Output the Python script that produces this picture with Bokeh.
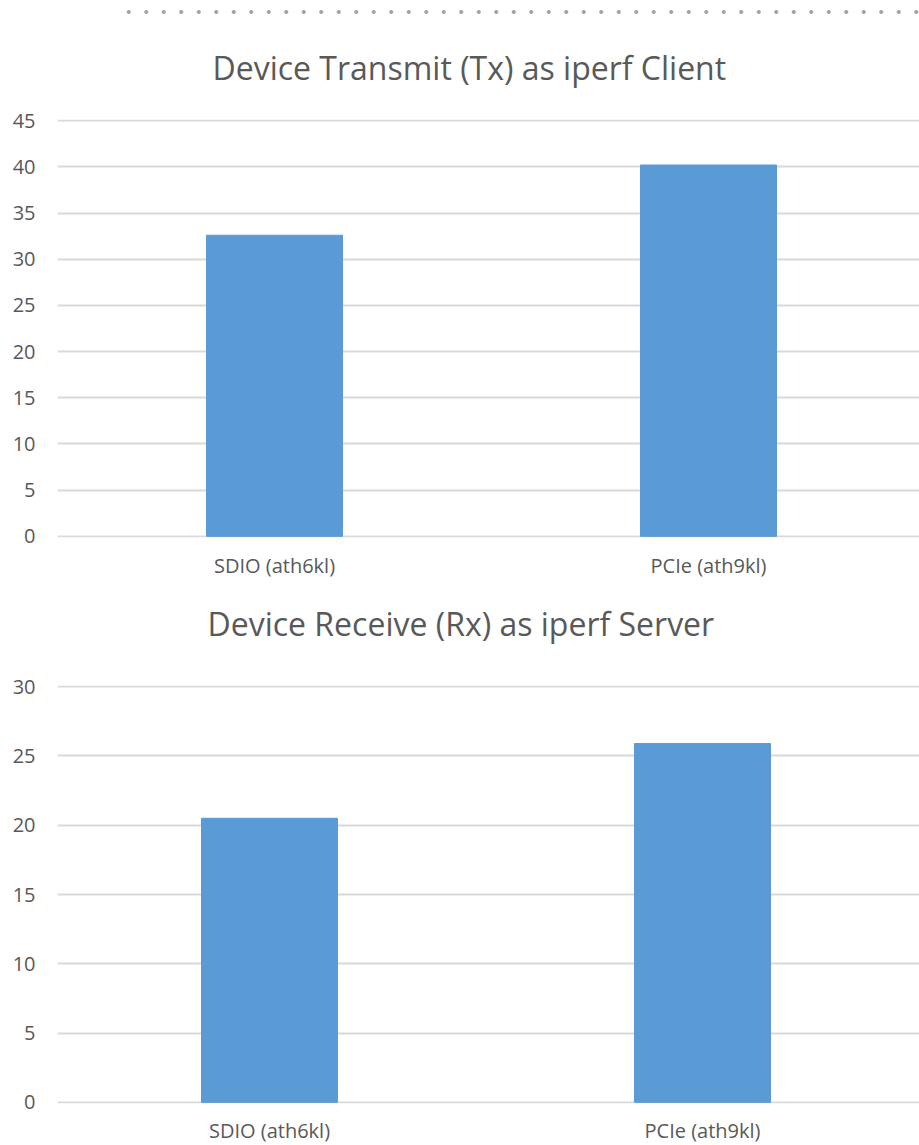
from bokeh.plotting import figure
from bokeh.models import Range1d, FixedTicker, Title, Div
from bokeh.layouts import column
from bokeh.embed import file_html
from bokeh.resources import INLINE

categories = ["SDIO (ath6kl)", "PCIe (ath9kl)"]
tx_values = [32.6, 40.2]
rx_values = [20.5, 25.9]
tx_title = "Device Transmit (Tx) as iperf Client"
rx_title = "Device Receive (Rx) as iperf Server"
tx_ticks = [0, 5, 10, 15, 20, 25, 30, 35, 40, 45]
rx_ticks = [0, 5, 10, 15, 20, 25, 30]

FONT = "Open Sans"
TXT = "#595959"
GRID = "#d9d9d9"
BAR = "#5b9bd5"


def chart_title(text, offset, standoff):
    return Title(text=text, align="left", vertical_align="middle",
                 text_font=FONT, text_font_size="32px",
                 text_font_style="normal", text_color=TXT,
                 offset=offset, standoff=standoff)


def make_chart(values, ticks, x_start, px_per_unit, top, bottom, label_standoff):
    pos = [i + 0.5 for i in range(len(categories))]
    frame_w = 862
    ymax = ticks[-1]
    pad = ymax * 0.0028
    p = figure(frame_width=frame_w, frame_height=418,
               x_range=Range1d(x_start, x_start + frame_w / px_per_unit),
               y_range=Range1d(-pad, ymax + pad),
               output_backend="svg", toolbar_location=None,
               min_border_left=57, min_border_right=0,
               min_border_top=top, min_border_bottom=bottom)
    p.vbar(x=pos, top=values, width=136 / px_per_unit, color=BAR, line_color=BAR)
    p.outline_line_color = None
    p.xgrid.grid_line_color = None
    p.ygrid.grid_line_color = GRID
    p.ygrid.grid_line_width = 2
    xax = p.below[0]
    yax = p.left[0]
    p.ygrid.ticker = FixedTicker(ticks=ticks)
    yax.ticker = FixedTicker(ticks=ticks)
    xax.ticker = FixedTicker(ticks=pos)
    xax.major_label_overrides = {v: c for v, c in zip(pos, categories)}
    for ax in (xax, yax):
        ax.axis_line_color = None
        ax.major_tick_line_color = None
        ax.minor_tick_line_color = None
        ax.major_tick_out = 0
        ax.major_tick_in = 0
        ax.major_label_text_color = TXT
        ax.major_label_text_font = FONT
        ax.major_label_text_font_size = "20px"
    yax.major_label_standoff = 22
    xax.major_label_standoff = label_standoff
    p.background_fill_color = "white"
    p.border_fill_color = "white"
    return p


dots = Div(text='<div style="position:absolute;left:120px;top:10px;width:799px;height:4px;'
                'background-image:radial-gradient(circle, #a3a3a3 1.8px, rgba(255,255,255,0) 2.2px);'
                'background-size:17.5px 4px;background-position:0 0;"></div>',
           width=919, height=14, styles={"position": "relative", "margin": "0"})

p1 = make_chart(tx_values, tx_ticks, 0.0, 434, 103, 40, 14)
p1.add_layout(chart_title(tx_title, 155, 60), "above")
# the second chart's heading sits in the gap between the two plot frames
p1.add_layout(chart_title(rx_title, 150, 38), "below")

p2 = make_chart(rx_values, rx_ticks, 0.5 - 212 / 433, 433, 21, 40, 13)

layout = column(dots, p1, p2, spacing=0)
open("out.html", "w").write(file_html(layout, INLINE))
